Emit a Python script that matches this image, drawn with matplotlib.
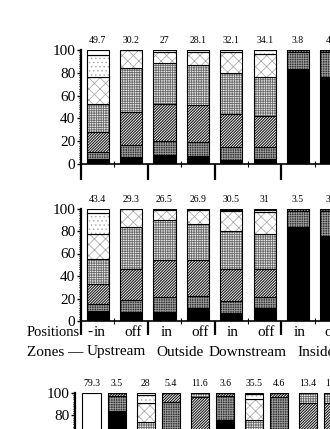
import matplotlib
matplotlib.use("Agg")
import matplotlib.pyplot as plt
import numpy as np

plt.rcParams['font.family'] = ['Liberation Serif', 'DejaVu Serif']
plt.rcParams['hatch.linewidth'] = 0.5

W, H = 330, 429

# segment heights, stacked bottom -> top
cats = ['black', 'dark', 'hatch', 'grid', 'x', 'dots', 'white']

# top panel
top_labels = ['49.7', '30.2', '27', '28.1', '32.1', '34.1', '3.8', '4.1']
top_black = [4.4, 6.1, 7.9, 7.0, 3.5, 4.0, 83.3, 76.6]
top_dark = [5.8, 10.6, 12.6, 12.0, 11.1, 10.6, 14.7, 21.9]
top_hatch = [17.6, 28.6, 32.1, 32.8, 29.3, 27.4, 2.0, 1.5]
top_grid = [24.8, 39.2, 36.4, 35.2, 36.1, 34.0, 0, 0]
top_x = [23.9, 15.5, 9.5, 11.5, 18.0, 20.5, 0, 0]
top_dots = [19.1, 0, 1.5, 1.5, 2.0, 3.5, 0, 0]
top_white = [4.4, 0, 0, 0, 0, 0, 0, 0]

# middle panel
mid_labels = ['43.4', '29.3', '26.5', '26.9', '30.5', '31', '3.5', '3.2']
mid_black = [9.1, 8.2, 8.2, 11.2, 6.8, 11.2, 83.5, 76.0]
mid_dark = [5.9, 10.4, 13.3, 10.8, 10.9, 10.3, 14.5, 22.0]
mid_hatch = [17.7, 27.7, 32.5, 32.0, 28.6, 24.9, 2.0, 2.0]
mid_grid = [22.3, 37.7, 35.4, 32.4, 33.3, 31.2, 0, 0]
mid_x = [22.0, 16.0, 9.1, 12.1, 18.1, 19.1, 0, 0]
mid_dots = [18.8, 0, 1.5, 1.5, 1.3, 2.3, 0, 0]
mid_white = [4.2, 0, 0, 0, 1.0, 1.0, 0, 0]

# bottom panel
bot_labels = ['79.3', '3.5', '28', '5.4', '11.6', '3.6', '35.5', '4.6', '13.4', '12.7']
bot_black = [0, 84.0, 5, 60, 5, 75.8, 5, 60, 5, 5]
bot_dark = [0, 13.5, 7, 32, 15, 21.7, 7, 36, 15, 15]
bot_hatch = [0, 2.5, 23, 8, 76.6, 2.5, 28, 4, 70.6, 70.6]
bot_grid = [0, 0, 39.3, 0, 3.4, 0, 35.8, 0, 9.4, 9.4]
bot_x = [0, 0, 16.3, 0, 0, 0, 18.2, 0, 0, 0]
bot_dots = [0, 0, 7.4, 0, 0, 0, 4.5, 0, 0, 0]
bot_white = [100, 0, 2, 0, 0, 0, 1.5, 0, 0, 0]

positions = ['in', 'off'] * 4
zones = ['Upstream', 'Outside', 'Downstream', 'Inside']

styles = {
    'black': dict(color='black', edgecolor='black', hatch=None, lw=0.5),
    'dark': dict(color='#2e2e2e', edgecolor='#9a9a9a', hatch='+++++++', lw=0.6),
    'hatch': dict(color='white', edgecolor='#1a1a1a', hatch='/' * 12, lw=0.8),
    'grid': dict(color='#eeeeee', edgecolor='#6a6a6a', hatch='+' * 7, lw=0.6),
    'x': dict(color='white', edgecolor='#a0a0a0', hatch='xxx', lw=0.5),
    'dots': dict(color='white', edgecolor='#a8a8a8', hatch='....', lw=0.5),
    'white': dict(color='white', edgecolor='white', hatch=None, lw=0.5),
}


def fx(px):
    return px / W


def fy(py):
    return 1 - py / H


def stacked(ax, xs, segs, width, labels):
    bottom = np.zeros(len(xs))
    for c, h in zip(cats, segs):
        h = np.array(h, dtype=float)
        st = styles[c]
        with plt.rc_context({'hatch.linewidth': st['lw']}):
            ax.bar(xs, h, bottom=bottom, width=width, color=st['color'],
                   edgecolor=st['edgecolor'], hatch=st['hatch'], linewidth=0)
        ax.bar(xs, h, bottom=bottom, width=width, fill=False,
               edgecolor='black', linewidth=0.8)
        bottom += h
    for x, lab in zip(xs, labels):
        ax.text(x, 104, lab, ha='center', va='bottom', fontsize=7, clip_on=False)


def style_y(ax):
    ax.set_ylim(0, 100)
    ax.set_yticks([0, 20, 40, 60, 80, 100])
    ax.set_yticks(np.arange(0, 101, 2), minor=True)
    ax.tick_params(axis='y', which='major', length=3, width=1, pad=1, labelsize=11)
    ax.tick_params(axis='y', which='minor', length=1.8, width=0.8)
    ax.spines['left'].set_linewidth(1.6)
    ax.spines['bottom'].set_linewidth(1.2)
    ax.spines['top'].set_visible(False)
    ax.spines['right'].set_visible(False)


fig = plt.figure(figsize=(W / 100, H / 100), dpi=100)

bar_px = 33.4
for y100, y0, segs, labels, ticklen in [
    (50, 164, [top_black, top_dark, top_hatch, top_grid, top_x, top_dots, top_white], top_labels, 11.5),
    (208.5, 321, [mid_black, mid_dark, mid_hatch, mid_grid, mid_x, mid_dots, mid_white], mid_labels, 10),
]:
    ax = fig.add_axes([fx(81), fy(y0), fx(bar_px * 8), (y0 - y100) / H])
    xs = np.arange(8)
    stacked(ax, xs, segs, 0.66, labels)
    ax.set_xlim(-0.5, 7.5)
    style_y(ax)
    ax.set_xticks([-0.5, 1.5, 3.5, 5.5, 7.5])
    ax.set_xticks([0.5, 2.5, 4.5, 6.5], minor=True)
    ax.tick_params(axis='x', which='major', direction='out', length=ticklen, width=1.6, labelbottom=False)
    ax.tick_params(axis='x', which='minor', direction='inout', length=4, width=0.8)
    mid_ax = ax

# position labels under middle panel
for x, p in zip(range(8), positions):
    mid_ax.text(x + 0.05, -0.1, p, transform=mid_ax.get_xaxis_transform(),
                ha='center', va='center', fontsize=11, clip_on=False)
fig.text(fx(27), fy(332), 'Positions', ha='left', va='center', fontsize=10.5)
fig.text(fx(90), fy(332), '-', ha='center', va='center', fontsize=11)
fig.text(fx(27), fy(352), 'Zones —', ha='left', va='center', fontsize=11)
for px, z in zip([87, 156, 209, 297], zones):
    fig.text(fx(px), fy(352), z, ha='left', va='center', fontsize=11)

# bottom panel (cut off by the frame)
pair_px = 54.1
ax = fig.add_axes([fx(75), fy(505.7), fx(pair_px * 5.14), 113 / H])
xs = np.array([k + (j - 0.5) * 0.47 for k in range(5) for j in range(2)])
stacked(ax, xs, [bot_black, bot_dark, bot_hatch, bot_grid, bot_x, bot_dots, bot_white],
        0.333, bot_labels)
ax.set_xlim(-0.54, 4.6)
style_y(ax)
ax.set_xticks([])

fig.savefig('out.png', dpi=100)
